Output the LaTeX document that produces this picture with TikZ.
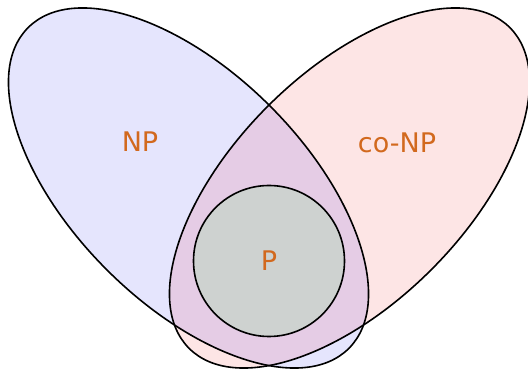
\documentclass[tikz,border=0pt]{standalone}
\usepackage{fontspec}
\setmainfont{DejaVu Sans}
\usepackage{xcolor}
\usepackage{tikz}
\usetikzlibrary{positioning}

\definecolor{npfill}{RGB}{229,229,253}
\definecolor{conpfill}{RGB}{253,229,229}
\definecolor{bothfill}{RGB}{229,204,229}
\definecolor{pfill}{RGB}{206,210,208}
\definecolor{labelcol}{RGB}{210,105,30}

\begin{document}
\begin{tikzpicture}[
      x=1pt, y=1pt,
      setline/.style={draw=black, line width=1.6pt},
      setlabel/.style={text=labelcol, font=\fontsize{27}{32}\selectfont},
      leftset/.style={rotate around={-45:(188.5,181)}},
      rightset/.style={rotate around={45:(349.5,181)}}
    ]
      \useasboundingbox (0,0) rectangle (528,369);
      \fill[npfill, leftset] (188.5,181) ellipse [x radius=226.8, y radius=115.6];
      \fill[conpfill, rightset] (349.5,181) ellipse [x radius=226.8, y radius=115.6];
      \begin{scope}
        \clip[leftset] (188.5,181) ellipse [x radius=226.8, y radius=115.6];
        \fill[bothfill, rightset] (349.5,181) ellipse [x radius=226.8, y radius=115.6];
      \end{scope}
      \draw[setline, leftset] (188.5,181) ellipse [x radius=226.8, y radius=115.6];
      \draw[setline, rightset] (349.5,181) ellipse [x radius=226.8, y radius=115.6];
      \node[setlabel] (np) at (140,227) {NP};
      \node[setlabel] (conp) at (397,226) {co-NP};
      \node[setlabel, circle, setline, fill=pfill, minimum size=151pt, inner sep=0pt] (p) at (269,108) {P};
    \end{tikzpicture}
\end{document}
